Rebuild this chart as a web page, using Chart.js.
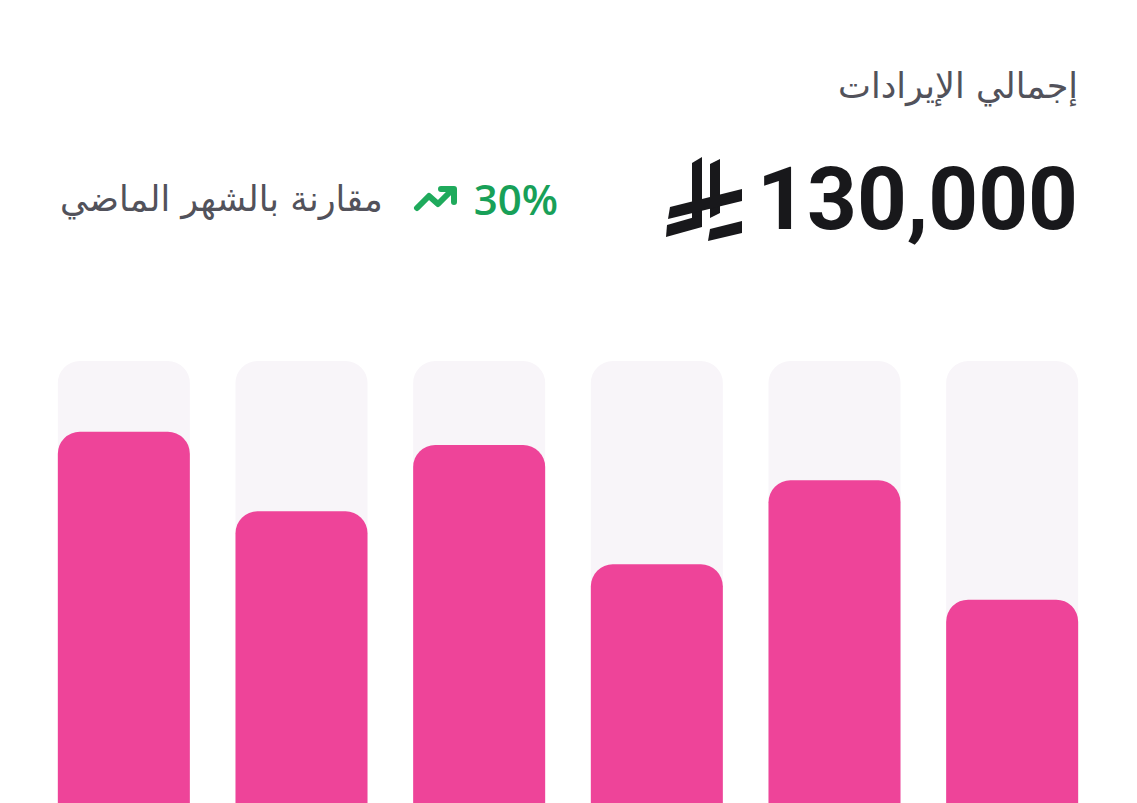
<!DOCTYPE html>
<html lang="ar" dir="rtl">
<head>
<meta charset="utf-8">
<title>إجمالي الإيرادات</title>
<script src="https://cdn.jsdelivr.net/npm/chart.js@4.4.1/dist/chart.umd.min.js"></script>
<style>
  html, body { margin: 0; padding: 0; background: #ffffff; }
  body { width: 1137px; height: 803px; position: relative; overflow: hidden; font-family: "DejaVu Sans", "Noto Sans", sans-serif; }
  .title { position: absolute; right: 59px; top: 66px; font-size: 35px; color: #52525b; }
  .total { position: absolute; right: 59px; top: 148px; display: flex; align-items: center; direction: ltr; }
  .total svg { width: 80px; height: 88px; margin-right: 13px; }
  .total span { font-family: Roboto, sans-serif; font-weight: 700; font-size: 87px; color: #18181b; }
  .change { position: absolute; left: 60px; top: 170px; display: flex; align-items: center; direction: ltr; }
  .change .label { font-size: 35px; color: #52525b; margin-right: 30px; }
  .change svg { width: 46px; height: 30px; margin-right: 15px; }
  .change .pct { font-family: "Open Sans", sans-serif; font-weight: 600; font-size: 42px; color: #18a058; }
  .chart-box { position: absolute; left: 35px; top: 361px; width: 1066px; height: 442px; }
</style>
</head>
<body>
<div class="title">إجمالي الإيرادات</div>

<div class="total">
  <svg viewBox="0 0 80 88" aria-label="ريال">
    <g fill="#18181b">
      <polygon points="28,8 38,2 38,66 28,72"/>
      <polygon points="46,9 56,4 56,58 46,63"/>
      <polygon points="6,52 78,34 78,46 4,64"/>
      <polygon points="3,70 38,60 38,72 2,82"/>
      <polygon points="46,74 78,66 78,78 44,86"/>
    </g>
  </svg>
  <span>130,000</span>
</div>

<div class="change">
  <span class="label">مقارنة بالشهر الماضي</span>
  <svg viewBox="0 0 46 30">
    <polyline points="4,24 16,12 25,20 38,7" fill="none" stroke="#1faa5c" stroke-width="6" stroke-linecap="round" stroke-linejoin="round"/>
    <polyline points="28,5 41,5 41,18" fill="none" stroke="#1faa5c" stroke-width="6" stroke-linecap="round" stroke-linejoin="round"/>
  </svg>
  <span class="pct">30%</span>
</div>

<div class="chart-box"><canvas id="revenueChart"></canvas></div>

<script>
  // months, read right to left (the page is RTL)
  const months = ['يناير', 'فبراير', 'مارس', 'أبريل', 'مايو', 'يونيو'];
  const revenue = [46, 73, 54, 81, 66, 84];
  const target = [100, 100, 100, 100, 100, 100];
  const yMax = 100;

  const revenueData = {
    labels: months,
    datasets: [{
      label: 'الإيرادات',
      data: revenue,
      backgroundColor: '#ee4499',
      borderRadius: { topLeft: 22, topRight: 22 },
      borderSkipped: 'bottom',
      grouped: false,
      order: 1
    }, {
      label: 'الهدف',
      data: target,
      backgroundColor: '#f8f5f9',
      borderRadius: { topLeft: 22, topRight: 22 },
      borderSkipped: 'bottom',
      grouped: false,
      order: 2
    }]
  };

  const revenueConfig = {
    type: 'bar',
    data: revenueData,
    options: {
      responsive: true,
      maintainAspectRatio: false,
      animation: false,
      layout: { padding: 0 },
      categoryPercentage: 0.743,
      barPercentage: 1,
      scales: {
        x: { display: false, reverse: true },
        y: { display: false, min: 0, max: yMax }
      },
      plugins: {
        legend: { display: false },
        tooltip: { enabled: false }
      }
    }
  };

  const revenueChart = new Chart(
    document.getElementById('revenueChart'),
    revenueConfig
  );
</script>
</body>
</html>
